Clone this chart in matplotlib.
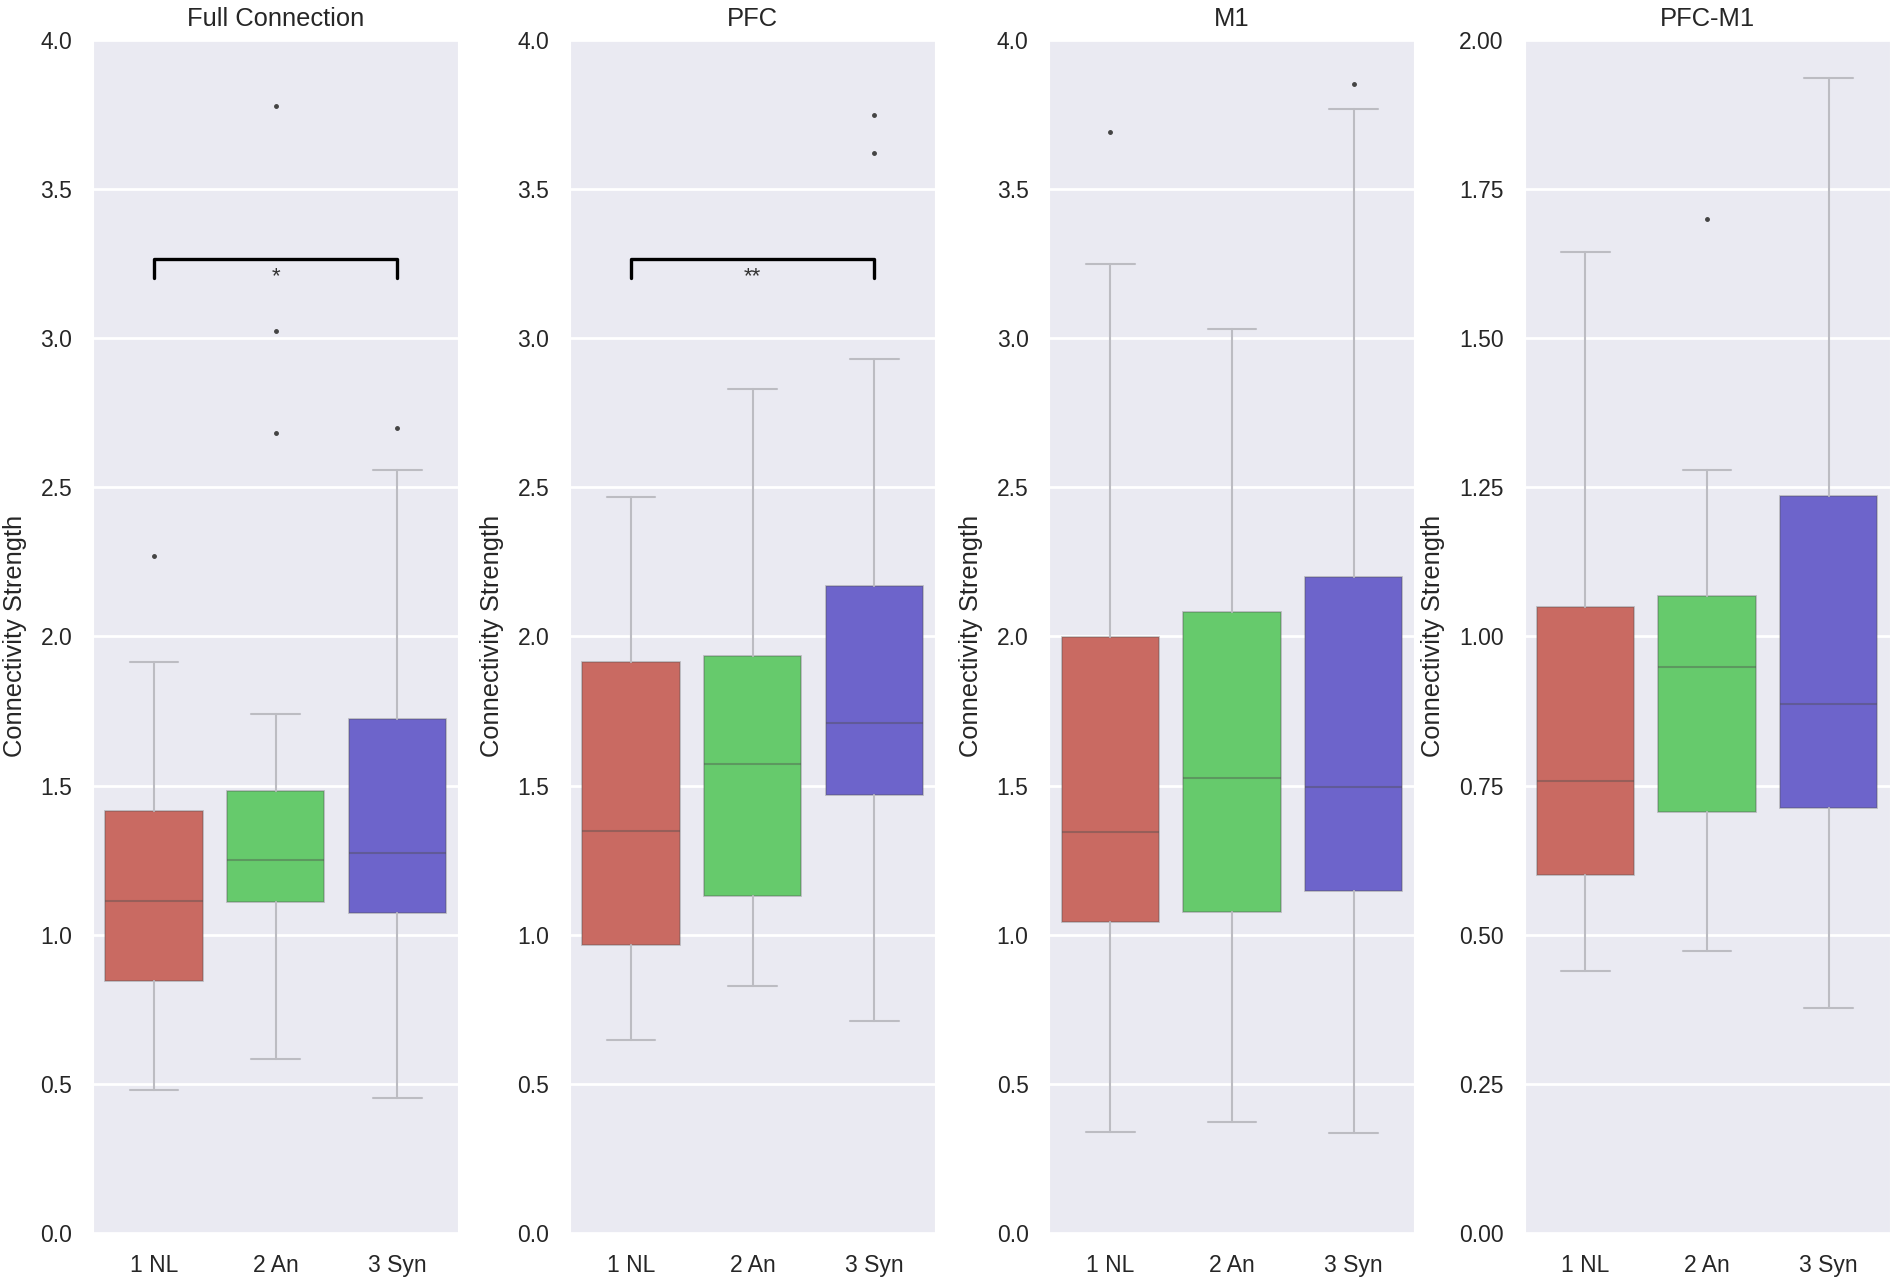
import matplotlib
matplotlib.use('Agg')
import matplotlib.pyplot as plt
import seaborn as sns

# data (box stats per panel, per group)
panels = ['Full Connection', 'PFC', 'M1', 'PFC-M1']
groups = ['1 NL', '2 An', '3 Syn']

medians = [[1.113, 1.250, 1.273],
           [1.348, 1.572, 1.711],
           [1.344, 1.525, 1.496],
           [0.757, 0.949, 0.887]]
q1 = [[0.846, 1.108, 1.071],
      [0.967, 1.128, 1.468],
      [1.041, 1.077, 1.145],
      [0.600, 0.705, 0.713]]
q3 = [[1.416, 1.483, 1.722],
      [1.913, 1.934, 2.168],
      [1.997, 2.082, 2.200],
      [1.050, 1.068, 1.235]]
whis_lo = [[0.478, 0.582, 0.452],
           [0.647, 0.828, 0.709],
           [0.340, 0.371, 0.335],
           [0.439, 0.472, 0.377]]
whis_hi = [[1.915, 1.740, 2.559],
           [2.466, 2.830, 2.929],
           [3.247, 3.029, 3.767],
           [1.644, 1.279, 1.936]]
fliers = [[[2.271], [3.778, 3.025, 2.682], [2.697]],
          [[], [], [3.748, 3.619]],
          [[3.692], [], [3.852]],
          [[], [1.70], []]]

y_max = [4.0, 4.0, 4.0, 2.0]
y_step = [0.5, 0.5, 0.5, 0.25]
y_fmt = ['{:.1f}', '{:.1f}', '{:.1f}', '{:.2f}']

# significance brackets: panel index -> (label, bracket top)
signif = {0: ('*', 3.266), 1: ('**', 3.266)}

colors = ['#C96A62', '#66CA6C', '#6D64CB']

sns.set_style('darkgrid')
plt.rcParams['font.family'] = ['Liberation Sans', 'DejaVu Sans']
plt.rcParams['text.color'] = '.15'
plt.rcParams['axes.labelcolor'] = '.15'
plt.rcParams['xtick.color'] = '.15'
plt.rcParams['ytick.color'] = '.15'

fig = plt.figure(figsize=(19.01, 12.83), dpi=100)

lefts = [0.049, 0.300, 0.552, 0.802]
line_c = '#bcbcc2'

for p, name in enumerate(panels):
    ax = fig.add_axes([lefts[p], 0.039, 0.192, 0.930])
    stats = []
    for g in range(len(groups)):
        stats.append(dict(med=medians[p][g], q1=q1[p][g], q3=q3[p][g],
                          whislo=whis_lo[p][g], whishi=whis_hi[p][g],
                          fliers=fliers[p][g], label=groups[g]))
    bp = ax.bxp(stats, positions=[0, 1, 2], widths=0.8, capwidths=0.4,
                patch_artist=True, showfliers=True,
                boxprops=dict(edgecolor=(0.3, 0.3, 0.3, 0.35), linewidth=1.2),
                whiskerprops=dict(color=line_c, linewidth=1.5),
                capprops=dict(color=line_c, linewidth=1.5),
                medianprops=dict(color=(0.3, 0.3, 0.3, 0.4), linewidth=1.5),
                flierprops=dict(marker='o', markersize=2.5, markerfacecolor='#444444',
                                markeredgecolor='#444444', linestyle='none'))
    for patch, c in zip(bp['boxes'], colors):
        patch.set_facecolor(c)

    ax.set_xlim(-0.5, 2.5)
    ax.set_ylim(0, y_max[p])
    n_ticks = int(round(y_max[p] / y_step[p])) + 1
    ticks = [i * y_step[p] for i in range(n_ticks)]
    ax.set_yticks(ticks)
    ax.set_yticklabels([y_fmt[p].format(t) for t in ticks])
    ax.set_xticks([0, 1, 2])
    ax.set_xticklabels(groups)
    ax.tick_params(axis='both', labelsize=16.5, pad=15, length=0)
    ax.xaxis.grid(False)
    ax.yaxis.grid(True, color='white', linewidth=2)
    ax.set_axisbelow(True)
    ax.set_ylabel('Connectivity Strength', fontsize=18.4, labelpad=10)
    ax.set_title(name, fontsize=18.4, pad=10)

    if p in signif:
        label, top = signif[p]
        ax.plot([0, 0, 2, 2], [top - 0.066, top, top, top - 0.066], color='black', lw=2.4)
        ax.text(1, top - 0.06, label, ha='center', va='center', fontsize=16, color='.2')

fig.savefig('out.png', dpi=100)
